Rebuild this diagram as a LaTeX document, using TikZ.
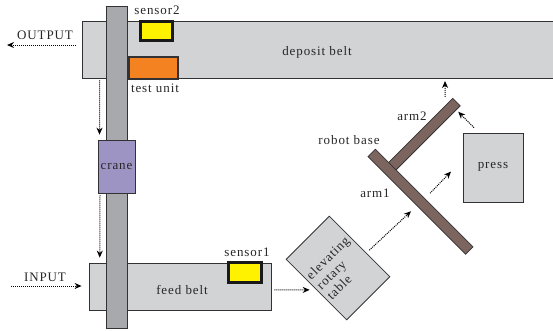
\documentclass[tikz,border=0pt]{standalone}
\usepackage{fontspec}
\setmainfont[LetterSpace=7]{Liberation Serif}
\usepackage{xcolor}
\usetikzlibrary{arrows.meta,positioning,calc}
\definecolor{beltbg}{RGB}{209,211,212}
\definecolor{railbg}{RGB}{167,169,172}
\definecolor{cranebg}{RGB}{158,148,196}
\definecolor{sensorbg}{RGB}{255,242,0}
\definecolor{testbg}{RGB}{245,130,32}
\definecolor{armbg}{RGB}{125,101,95}
\definecolor{edgebar}{RGB}{50,50,52}

\begin{document}
\begin{tikzpicture}[x=1pt, y=-1pt, font=\fontsize{13}{14.6}\selectfont, text=black!85,
  box/.style={draw=edgebar, line width=0.8pt, inner sep=0pt, align=center},
  belt/.style={box, fill=beltbg},
  rail/.style={box, fill=railbg, line width=1pt},
  sens/.style={box, fill=sensorbg, draw=black!90, line width=3pt, minimum width=32.5pt, minimum height=19.5pt},
  arm/.style={box, fill=armbg, minimum height=10.5pt},
  flow/.style={->, densely dotted, line width=1pt, >={Stealth[length=7pt, width=6pt]}}]
  \useasboundingbox (0,0) rectangle (553,330);
  % belts first, the rail runs over them
  \node[belt, minimum width=474pt, minimum height=57pt] (deposit) at (319,49.5) {};
  \node[belt, minimum width=182pt, minimum height=47pt] (feed) at (180,286.5) {};
  \node[rail, minimum width=21.5pt, minimum height=322pt] (track) at (116.75,167) {};
  \node[box, fill=cranebg, minimum width=37pt, minimum height=53pt] (crane) at (116.5,166.5) {crane};
  \node[sens] (sensorB) at (156.5,31) {};
  \node[sens] (sensorA) at (245,272.5) {};
  \node[box, fill=testbg, line width=1.3pt, minimum width=49pt, minimum height=22pt] (test) at (153.5,68) {};
  \node[belt, minimum width=60pt, minimum height=69pt] (press) at (493,167.5) {};
  \node[belt, rotate=45, align=left, minimum width=61pt, minimum height=85.5pt] (table) at (338,268) {elevating\\rotary\\table};
  \node[arm, rotate=45, minimum width=96pt] (arm2) at (422.5,136) {};
  \node[arm, rotate=-45, minimum width=138pt] (arm1) at (420.5,201.75) {};
  % labels
  \node (ldeposit) at (317,52) {deposit belt};
  \node (lfeed) at (182,290) {feed belt};
  \node (lpress) at (493,167) {press};
  \node (lsensorB) at (157,10.5) {sensor2};
  \node (ltest) at (155,88) {test unit};
  \node (lsensorA) at (247,252) {sensor1};
  \node (loutput) at (45,35) {OUTPUT};
  \node (linput) at (45,277) {INPUT};
  \node (lbase) at (349,140) {robot base};
  \node (larm2) at (412,116) {arm2};
  \node (larm1) at (375,193) {arm1};
  % free ends
  \coordinate (outend) at (7,45);
  \coordinate (inbegin) at (11,286);
  \coordinate (upend) at (445,81);
  % flow of the blanks
  \draw[flow] (inbegin) -- ([yshift=0.5pt, xshift=-7pt]feed.west);
  \draw[flow, shorten <=3pt, shorten >=6.5pt] ([yshift=-3.5pt]feed.east) -- (table.west);
  \draw[flow] ([shift={(9.5,4)}]table.east) -- ([shift={(-9.5,9.5)}]arm1.center);
  \draw[flow] ([shift={(9.5,-8.5)}]arm1.center) -- ([shift={(-42,39)}]press.north);
  \draw[flow] ([shift={(-19,-5)}]press.north) -- ([shift={(1.5,10)}]arm2.east);
  \draw[flow] ([shift={(-11.5,-5)}]arm2.east) -- (upend);
  \draw[flow] ([shift={(-6,-4.5)}]deposit.west) -- (outend);
  \draw[flow] ([shift={(18,2)}]deposit.south west) -- ([shift={(-17,-5)}]crane.north);
  \draw[flow] ([shift={(-16.5,2)}]crane.south) -- ([shift={(-17,-5)}]track.south |- feed.north);
\end{tikzpicture}
\end{document}
